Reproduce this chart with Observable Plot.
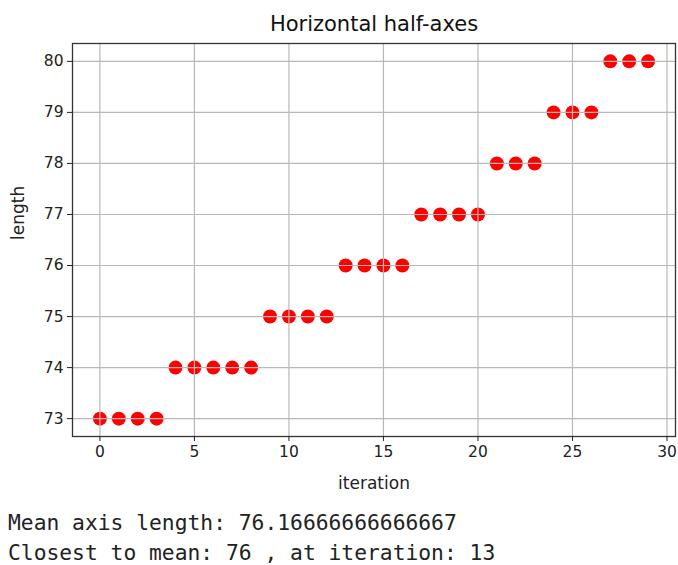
<!DOCTYPE html>
<html>
<head>
<meta charset="utf-8">
<script src="https://cdn.jsdelivr.net/npm/d3@7"></script>
<script src="https://cdn.jsdelivr.net/npm/@observablehq/plot@0.6"></script>
<style>
  body { margin: 0; background: #fff; }
  #out { margin: 0; padding: 8px 0 0 8px; font-family: "DejaVu Sans Mono", monospace; font-size: 21.3px; line-height: 30px; color: #222; white-space: pre; }
</style>
</head>
<body>
<div id="chart"></div>
<pre id="out"></pre>
<script>
const title = "Horizontal half-axes";
const iterations = [0,1,2,3,4,5,6,7,8,9,10,11,12,13,14,15,16,17,18,19,20,21,22,23,24,25,26,27,28,29];
const lengths = [73,73,73,73,74,74,74,74,74,75,75,75,75,76,76,76,76,77,77,77,77,78,78,78,79,79,79,80,80,80];
const xTicks = [0,5,10,15,20,25,30];
const yTicks = [73,74,75,76,77,78,79,80];
const outputLines = ["Mean axis length: 76.16666666666667", "Closest to mean: 76 , at iteration: 13"];

const data = iterations.map((it, i) => ({iteration: it, length: lengths[i]}));

const chart = Plot.plot({
  width: 678,
  height: 500,
  marginTop: 43,
  marginBottom: 64,
  marginLeft: 72,
  marginRight: 3,
  style: {fontFamily: "DejaVu Sans", fontSize: "15.5px", color: "#222", background: "#fff"},
  x: {domain: [-1.45, 30.45]},
  y: {domain: [72.65, 80.35]},
  marks: [
    Plot.dot(data, {x: "iteration", y: "length", r: 7, fill: "#f00", stroke: "none"}),
    Plot.gridX(xTicks, {stroke: "#b8b8b8", strokeOpacity: 1, strokeWidth: 1.2}),
    Plot.gridY(yTicks, {stroke: "#b8b8b8", strokeOpacity: 1, strokeWidth: 1.2}),
    Plot.frame({stroke: "#333", strokeWidth: 1.3}),
    Plot.axisX(xTicks, {tickSize: 5, tickPadding: 4, tickFormat: "d", fontSize: 15.5, label: null}),
    Plot.axisY(yTicks, {tickSize: 5, tickPadding: 4, tickFormat: "d", fontSize: 15.5, label: null}),
    Plot.text(["iteration"], {frameAnchor: "bottom", dy: 47, lineAnchor: "middle", fontSize: 17, fill: "#222"}),
    Plot.text(["length"], {frameAnchor: "left", dx: -54, rotate: -90, lineAnchor: "middle", fontSize: 17, fill: "#222"}),
    Plot.text([title], {frameAnchor: "top", dy: -19, lineAnchor: "middle", fontSize: 21, fill: "#111"})
  ]
});
document.getElementById("chart").appendChild(chart);
document.getElementById("out").textContent = outputLines.join("\n");
</script>
</body>
</html>
